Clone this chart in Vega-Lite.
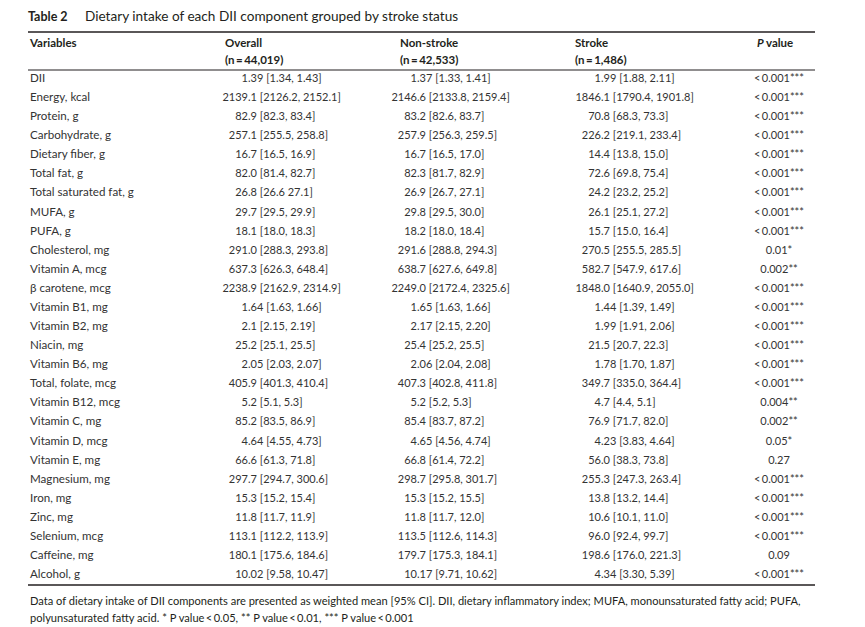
{
  "$schema": "https://vega.github.io/schema/vega-lite/v6.json",
  "width": 865,
  "height": 627,
  "autosize": {"type": "fit", "contains": "padding"},
  "padding": 0,
  "background": "white",
  "config": {"view": {"stroke": null}, "text": {"font": "Lato", "color": "#231f20", "baseline": "middle"}},
  "datasets": {
    "rows": [
      {"r": 0, "variable": "DII", "overall": "1.39 [1.34, 1.43]", "nonstroke": "1.37 [1.33, 1.41]", "stroke": "1.99 [1.88, 2.11]", "p": "<\u20090.001***"},
      {"r": 1, "variable": "Energy, kcal", "overall": "2139.1 [2126.2, 2152.1]", "nonstroke": "2146.6 [2133.8, 2159.4]", "stroke": "1846.1 [1790.4, 1901.8]", "p": "<\u20090.001***"},
      {"r": 2, "variable": "Protein, g", "overall": "82.9 [82.3, 83.4]", "nonstroke": "83.2 [82.6, 83.7]", "stroke": "70.8 [68.3, 73.3]", "p": "<\u20090.001***"},
      {"r": 3, "variable": "Carbohydrate, g", "overall": "257.1 [255.5, 258.8]", "nonstroke": "257.9 [256.3, 259.5]", "stroke": "226.2 [219.1, 233.4]", "p": "<\u20090.001***"},
      {"r": 4, "variable": "Dietary fiber, g", "overall": "16.7 [16.5, 16.9]", "nonstroke": "16.7 [16.5, 17.0]", "stroke": "14.4 [13.8, 15.0]", "p": "<\u20090.001***"},
      {"r": 5, "variable": "Total fat, g", "overall": "82.0 [81.4, 82.7]", "nonstroke": "82.3 [81.7, 82.9]", "stroke": "72.6 [69.8, 75.4]", "p": "<\u20090.001***"},
      {"r": 6, "variable": "Total saturated fat, g", "overall": "26.8 [26.6 27.1]", "nonstroke": "26.9 [26.7, 27.1]", "stroke": "24.2 [23.2, 25.2]", "p": "<\u20090.001***"},
      {"r": 7, "variable": "MUFA, g", "overall": "29.7 [29.5, 29.9]", "nonstroke": "29.8 [29.5, 30.0]", "stroke": "26.1 [25.1, 27.2]", "p": "<\u20090.001***"},
      {"r": 8, "variable": "PUFA, g", "overall": "18.1 [18.0, 18.3]", "nonstroke": "18.2 [18.0, 18.4]", "stroke": "15.7 [15.0, 16.4]", "p": "<\u20090.001***"},
      {"r": 9, "variable": "Cholesterol, mg", "overall": "291.0 [288.3, 293.8]", "nonstroke": "291.6 [288.8, 294.3]", "stroke": "270.5 [255.5, 285.5]", "p": "0.01*"},
      {"r": 10, "variable": "Vitamin A, mcg", "overall": "637.3 [626.3, 648.4]", "nonstroke": "638.7 [627.6, 649.8]", "stroke": "582.7 [547.9, 617.6]", "p": "0.002**"},
      {"r": 11, "variable": "β carotene, mcg", "overall": "2238.9 [2162.9, 2314.9]", "nonstroke": "2249.0 [2172.4, 2325.6]", "stroke": "1848.0 [1640.9, 2055.0]", "p": "<\u20090.001***"},
      {"r": 12, "variable": "Vitamin B1, mg", "overall": "1.64 [1.63, 1.66]", "nonstroke": "1.65 [1.63, 1.66]", "stroke": "1.44 [1.39, 1.49]", "p": "<\u20090.001***"},
      {"r": 13, "variable": "Vitamin B2, mg", "overall": "2.1 [2.15, 2.19]", "nonstroke": "2.17 [2.15, 2.20]", "stroke": "1.99 [1.91, 2.06]", "p": "<\u20090.001***"},
      {"r": 14, "variable": "Niacin, mg", "overall": "25.2 [25.1, 25.5]", "nonstroke": "25.4 [25.2, 25.5]", "stroke": "21.5 [20.7, 22.3]", "p": "<\u20090.001***"},
      {"r": 15, "variable": "Vitamin B6, mg", "overall": "2.05 [2.03, 2.07]", "nonstroke": "2.06 [2.04, 2.08]", "stroke": "1.78 [1.70, 1.87]", "p": "<\u20090.001***"},
      {"r": 16, "variable": "Total, folate, mcg", "overall": "405.9 [401.3, 410.4]", "nonstroke": "407.3 [402.8, 411.8]", "stroke": "349.7 [335.0, 364.4]", "p": "<\u20090.001***"},
      {"r": 17, "variable": "Vitamin B12, mcg", "overall": "5.2 [5.1, 5.3]", "nonstroke": "5.2 [5.2, 5.3]", "stroke": "4.7 [4.4, 5.1]", "p": "0.004**"},
      {"r": 18, "variable": "Vitamin C, mg", "overall": "85.2 [83.5, 86.9]", "nonstroke": "85.4 [83.7, 87.2]", "stroke": "76.9 [71.7, 82.0]", "p": "0.002**"},
      {"r": 19, "variable": "Vitamin D, mcg", "overall": "4.64 [4.55, 4.73]", "nonstroke": "4.65 [4.56, 4.74]", "stroke": "4.23 [3.83, 4.64]", "p": "0.05*"},
      {"r": 20, "variable": "Vitamin E, mg", "overall": "66.6 [61.3, 71.8]", "nonstroke": "66.8 [61.4, 72.2]", "stroke": "56.0 [38.3, 73.8]", "p": "0.27"},
      {"r": 21, "variable": "Magnesium, mg", "overall": "297.7 [294.7, 300.6]", "nonstroke": "298.7 [295.8, 301.7]", "stroke": "255.3 [247.3, 263.4]", "p": "<\u20090.001***"},
      {"r": 22, "variable": "Iron, mg", "overall": "15.3 [15.2, 15.4]", "nonstroke": "15.3 [15.2, 15.5]", "stroke": "13.8 [13.2, 14.4]", "p": "<\u20090.001***"},
      {"r": 23, "variable": "Zinc, mg", "overall": "11.8 [11.7, 11.9]", "nonstroke": "11.8 [11.7, 12.0]", "stroke": "10.6 [10.1, 11.0]", "p": "<\u20090.001***"},
      {"r": 24, "variable": "Selenium, mcg", "overall": "113.1 [112.2, 113.9]", "nonstroke": "113.5 [112.6, 114.3]", "stroke": "96.0 [92.4, 99.7]", "p": "<\u20090.001***"},
      {"r": 25, "variable": "Caffeine, mg", "overall": "180.1 [175.6, 184.6]", "nonstroke": "179.7 [175.3, 184.1]", "stroke": "198.6 [176.0, 221.3]", "p": "0.09"},
      {"r": 26, "variable": "Alcohol, g", "overall": "10.02 [9.58, 10.47]", "nonstroke": "10.17 [9.71, 10.62]", "stroke": "4.34 [3.30, 5.39]", "p": "<\u20090.001***"}
    ],
    "title": [
      {"r": -3.249, "seg": 0, "t": "Table 2"},
      {"r": -3.249, "seg": 1, "t": "Dietary intake of each DII component grouped by stroke status"}
    ],
    "rules": [
      {"r": -2.463, "kind": "top"},
      {"r": -0.472, "kind": "mid"},
      {"r": 26.52, "kind": "bottom"}
    ],
    "header": [
      {"c": 0, "r": -1.834, "t": "Variables"},
      {"c": 1, "r": -1.834, "t": "Overall"},
      {"c": 1, "r": -0.943, "t": "(n\u2009=\u200944,019)"},
      {"c": 2, "r": -1.834, "t": "Non-stroke"},
      {"c": 2, "r": -0.943, "t": "(n\u2009=\u200942,533)"},
      {"c": 3, "r": -1.834, "t": "Stroke"},
      {"c": 3, "r": -0.943, "t": "(n\u2009=\u20091,486)"}
    ],
    "pheader": [
      {"r": -1.834, "seg": 0, "t": "P"},
      {"r": -1.834, "seg": 1, "t": "value"}
    ],
    "foot": [
      {"r": 27.41, "t": "Data of dietary intake of DII components are presented as weighted mean [95% CI]. DII, dietary inflammatory index; MUFA, monounsaturated fatty acid; PUFA,"},
      {"r": 28.30, "t": "polyunsaturated fatty acid. * P value\u2009<\u20090.05, ** P value\u2009<\u20090.01, *** P value\u2009<\u20090.001"}
    ]
  },
  "encoding": {
    "y": {"field": "r", "type": "quantitative", "scale": {"domain": [-4.14, 28.721], "reverse": true, "nice": false, "zero": false}, "axis": null}
  },
  "resolve": {"scale": {"x": "independent"}},
  "layer": [
    {
      "data": {"name": "title"},
      "transform": [{"filter": "datum.seg == 0"}],
      "mark": {"type": "text", "align": "left", "fontSize": 12.5, "fontWeight": "bold"},
      "encoding": {
        "x": {"field": "seg", "type": "quantitative", "scale": {"domain": [0, 1], "range": [28, 85]}, "axis": null},
        "text": {"field": "t"}
      }
    },
    {
      "data": {"name": "title"},
      "transform": [{"filter": "datum.seg == 1"}],
      "mark": {"type": "text", "align": "left", "fontSize": 13.6},
      "encoding": {
        "x": {"field": "seg", "type": "quantitative", "scale": {"domain": [0, 1], "range": [28, 85]}, "axis": null},
        "text": {"field": "t"}
      }
    },
    {
      "data": {"name": "rules"},
      "mark": {"type": "rule", "color": "#231f20"},
      "encoding": {
        "x": {"datum": 0, "type": "quantitative", "scale": {"domain": [0, 1], "range": [28, 815]}, "axis": null},
        "x2": {"datum": 1},
        "strokeWidth": {"condition": {"test": "datum.kind == 'mid'", "value": 1.1}, "value": 1.4}
      }
    },
    {
      "data": {"name": "header"},
      "mark": {"type": "text", "align": "left", "fontSize": 11.5, "fontWeight": "bold"},
      "encoding": {
        "x": {"field": "c", "type": "quantitative", "scale": {"domain": [0, 1, 2, 3], "range": [30, 225, 400, 575]}, "axis": null},
        "text": {"field": "t"}
      }
    },
    {
      "data": {"name": "pheader"},
      "transform": [{"filter": "datum.seg == 0"}],
      "mark": {"type": "text", "align": "left", "fontSize": 11.5, "fontWeight": "bold", "fontStyle": "italic"},
      "encoding": {
        "x": {"field": "seg", "type": "quantitative", "scale": {"domain": [0, 1], "range": [757, 766]}, "axis": null},
        "text": {"field": "t"}
      }
    },
    {
      "data": {"name": "pheader"},
      "transform": [{"filter": "datum.seg == 1"}],
      "mark": {"type": "text", "align": "left", "fontSize": 11.5, "fontWeight": "bold"},
      "encoding": {
        "x": {"field": "seg", "type": "quantitative", "scale": {"domain": [0, 1], "range": [757, 766]}, "axis": null},
        "text": {"field": "t"}
      }
    },
    {
      "data": {"name": "rows"},
      "mark": {"type": "text", "align": "left", "fontSize": 11.6, "color": "#333333"},
      "encoding": {
        "x": {"datum": 0, "type": "quantitative", "scale": {"domain": [0, 1], "range": [30, 815]}, "axis": null},
        "text": {"field": "variable"}
      }
    },
    {
      "data": {"name": "rows"},
      "transform": [
        {"fold": ["overall", "nonstroke", "stroke"], "as": ["key", "val"]},
        {"calculate": "indexof(['overall', 'nonstroke', 'stroke'], datum.key)", "as": "col"},
        {"calculate": "substring(datum.val, 0, indexof(datum.val, '.'))", "as": "lead"}
      ],
      "mark": {"type": "text", "align": "right", "fontSize": 11, "color": "#333333"},
      "encoding": {
        "x": {"field": "col", "type": "quantitative", "scale": {"domain": [0, 1, 2], "range": [248, 417, 601]}, "axis": null},
        "text": {"field": "lead"}
      }
    },
    {
      "data": {"name": "rows"},
      "transform": [
        {"fold": ["overall", "nonstroke", "stroke"], "as": ["key", "val"]},
        {"calculate": "indexof(['overall', 'nonstroke', 'stroke'], datum.key)", "as": "col"},
        {"calculate": "substring(datum.val, indexof(datum.val, '.'))", "as": "tail"}
      ],
      "mark": {"type": "text", "align": "left", "fontSize": 11, "color": "#333333"},
      "encoding": {
        "x": {"field": "col", "type": "quantitative", "scale": {"domain": [0, 1, 2], "range": [248, 417, 601]}, "axis": null},
        "text": {"field": "tail"}
      }
    },
    {
      "data": {"name": "rows"},
      "mark": {"type": "text", "align": "center", "fontSize": 11, "color": "#333333"},
      "encoding": {
        "x": {"datum": 0, "type": "quantitative", "scale": {"domain": [0, 1], "range": [779, 815]}, "axis": null},
        "text": {"field": "p"}
      }
    },
    {
      "data": {"name": "foot"},
      "mark": {"type": "text", "align": "left", "fontSize": 11.1},
      "encoding": {
        "x": {"datum": 0, "type": "quantitative", "scale": {"domain": [0, 1], "range": [30, 815]}, "axis": null},
        "text": {"field": "t"}
      }
    }
  ]
}
